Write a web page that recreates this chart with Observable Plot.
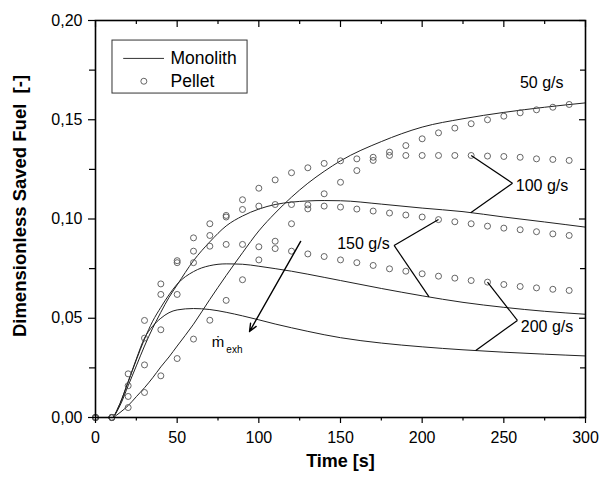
<!DOCTYPE html>
<html>
<head>
<meta charset="utf-8">
<script src="https://cdn.jsdelivr.net/npm/d3@7"></script>
<script src="https://cdn.jsdelivr.net/npm/@observablehq/plot@0.6"></script>
<style>
  html, body { margin: 0; padding: 0; background: #fff; }
  svg { display: block; }
</style>
</head>
<body>
<div id="chart"></div>
<script>
// ---------- data ----------
const seriesNames = ["50 g/s", "100 g/s", "150 g/s", "200 g/s"];

// Pellet (circles), sampled every 10 s
const pelletTime = [0,10,20,30,40,50,60,70,80,90,100,110,120,130,140,150,160,170,180,190,200,210,220,230,240,250,260,270,280,290];
const pellet50  = [0,0,0.005,0.0126,0.021,0.0297,0.0395,0.049,0.059,0.0694,0.0794,0.0888,0.0976,0.1051,0.1127,0.1185,0.1244,0.1295,0.1337,0.137,0.1404,0.1434,0.1458,0.148,0.150,0.1518,0.1535,0.155,0.1563,0.1577];
const pellet100 = [0,0,0.0106,0.0265,0.0442,0.062,0.078,0.0917,0.1010,0.1097,0.1155,0.1197,0.1233,0.1258,0.128,0.1293,0.1303,0.1311,0.132,0.132,0.132,0.132,0.132,0.132,0.1317,0.1315,0.1311,0.1303,0.130,0.1295];
const pellet150 = [0,0,0.016,0.040,0.062,0.078,0.0905,0.0976,0.1018,0.1048,0.1065,0.1073,0.1073,0.1071,0.1065,0.106,0.105,0.104,0.103,0.102,0.101,0.0997,0.0986,0.0976,0.0964,0.0954,0.0946,0.0936,0.0925,0.0917];
const pellet200 = [0,0,0.022,0.0489,0.0673,0.079,0.0838,0.0863,0.0872,0.0872,0.086,0.0851,0.0838,0.0824,0.0811,0.0794,0.078,0.0766,0.0749,0.0737,0.0724,0.0712,0.0702,0.069,0.0682,0.067,0.066,0.0653,0.0646,0.064];

// Monolith (lines)
const monoTime = [11,15,20,25,30,35,40,45,50,60,70,80,90,100,110,120,130,140,150,175,200,225,250,275,300];
const mono50  = [0,0.0025,0.006,0.0105,0.015,0.020,0.0255,0.0305,0.036,0.047,0.0595,0.0715,0.083,0.094,0.103,0.111,0.118,0.124,0.1293,0.139,0.1463,0.1505,0.1537,0.1563,0.1585];
const mono100 = [0,0.006,0.016,0.026,0.036,0.045,0.053,0.0605,0.0668,0.079,0.0885,0.0965,0.1015,0.105,0.1073,0.1085,0.1091,0.1093,0.1092,0.1075,0.1055,0.1037,0.101,0.0985,0.0959];
const mono150 = [0,0.007,0.018,0.029,0.0395,0.0485,0.0555,0.0618,0.0672,0.0735,0.0765,0.0774,0.0772,0.0762,0.075,0.0737,0.0722,0.0706,0.069,0.065,0.0613,0.058,0.0555,0.0535,0.052];
const mono200 = [0,0.007,0.018,0.0295,0.040,0.046,0.050,0.0528,0.0542,0.0549,0.0544,0.053,0.0512,0.0492,0.0471,0.0452,0.0434,0.0417,0.0402,0.0375,0.0356,0.0341,0.0329,0.0319,0.031];

// Axis ticks
const xMajor = [0,50,100,150,200,250,300];
const xMinor = [25,75,125,175,225,275];
const yMajor = [0,0.05,0.10,0.15,0.20];
const yMinor = [0.025,0.075,0.125,0.175];

// Texts
const xTitle = "Time [s]";
const yTitle = "Dimensionless Saved Fuel\u00a0 [-]";
const legendNames = ["Monolith", "Pellet"];

// ---------- build tables ----------
const pelletSets = [pellet50, pellet100, pellet150, pellet200];
const monoSets = [mono50, mono100, mono150, mono200];
const pellets = [];
pelletSets.forEach((arr, k) => pelletTime.forEach((t, i) => pellets.push({series: seriesNames[k], t, v: arr[i]})));
const monolith = [];
monoSets.forEach((arr, k) => monoTime.forEach((t, i) => monolith.push({series: seriesNames[k], t, v: arr[i]})));

const monoAt = (k, t) => {
  const arr = monoSets[k];
  const i = d3.bisectLeft(monoTime, t);
  if (i <= 0) return arr[0];
  if (i >= monoTime.length) return arr[arr.length - 1];
  const t0 = monoTime[i - 1], t1 = monoTime[i];
  return arr[i - 1] + (arr[i] - arr[i - 1]) * (t - t0) / (t1 - t0);
};
const pelletAt = (k, t) => pelletSets[k][pelletTime.indexOf(t)];

// annotation layout (data units)
const seriesLabels = [
  {k: 0, t: 273.2, v: 0.1688, anchor: "middle"},
  {k: 1, t: 257.3, v: 0.1169, anchor: "start", jt: 255.3, jv: 0.1180, pt: 230, mt: 229.7},
  {k: 2, t: 180.1, v: 0.0877, anchor: "end",   jt: 182.8, jv: 0.0867, pt: 210, mt: 204.2},
  {k: 3, t: 260.4, v: 0.0458, anchor: "start", jt: 258.3, jv: 0.0489, pt: 240, mt: 232.8}
];
const leaders = [];
seriesLabels.filter(d => d.pt != null).forEach(d => {
  leaders.push({x1: d.jt, y1: d.jv, x2: d.pt, y2: pelletAt(d.k, d.pt)});
  leaders.push({x1: d.jt, y1: d.jv, x2: d.mt, y2: monoAt(d.k, d.mt)});
});
const exhArrow = [{x1: 125.6, y1: 0.0887, x2: 94.3, y2: 0.0433}];
const exhLabel = [{t: 71.2, v: 0.0353, s: "\u1e41", size: 15}, {t: 80.1, v: 0.0326, s: "exh", size: 10}];
const legendBox = [{x1: 10.4, x2: 93.1, y1: 0.1632, y2: 0.1899}];
const legendLine = [{t: 17.2, v: 0.1809}, {t: 41.7, v: 0.1809}];
const legendDot = [{t: 29.6, v: 0.1694}];
const legendText = [{t: 45.9, v: 0.1809, s: legendNames[0]}, {t: 45.9, v: 0.1694, s: legendNames[1]}];

const font = "'Liberation Sans', Arial, Helvetica, sans-serif";
const fmt = d => d.toFixed(2).replace(".", ",");
const frameW = 599 - 95 - 14, frameH = 481 - 20 - 64;

const labelMark = anchor => Plot.text(seriesLabels.filter(d => d.anchor === anchor), {
  x: "t", y: "v", text: d => seriesNames[d.k], textAnchor: anchor, fontSize: 16, fill: "#000"
});

const chart = Plot.plot({
  width: 599,
  height: 481,
  marginLeft: 95,
  marginRight: 14,
  marginTop: 20,
  marginBottom: 64,
  style: {fontFamily: font, fontSize: "16px", background: "#fff", color: "#000"},
  x: {domain: [0, 300]},
  y: {domain: [0, 0.2]},
  marks: [
    // legend box
    Plot.rect(legendBox, {x1: "x1", x2: "x2", y1: "y1", y2: "y2", fill: "#fff", stroke: "#333", strokeWidth: 1}),
    Plot.line(legendLine, {x: "t", y: "v", stroke: "#333", strokeWidth: 1}),
    Plot.dot(legendDot, {x: "t", y: "v", r: 3, stroke: "#555", strokeWidth: 0.9, fill: "none"}),
    Plot.text(legendText, {x: "t", y: "v", text: "s", textAnchor: "start", fontSize: 17.5, fill: "#000"}),
    // data
    Plot.line(monolith, {x: "t", y: "v", z: "series", curve: "monotone-x", stroke: "#222", strokeWidth: 1}),
    Plot.dot(pellets, {x: "t", y: "v", r: 3, stroke: "#555", strokeWidth: 0.9, fill: "none"}),
    // annotations
    Plot.link(leaders, {x1: "x1", y1: "y1", x2: "x2", y2: "y2", stroke: "#000", strokeWidth: 1.2}),
    labelMark("middle"),
    labelMark("start"),
    labelMark("end"),
    Plot.arrow(exhArrow, {x1: "x1", y1: "y1", x2: "x2", y2: "y2", stroke: "#000", strokeWidth: 1.4, headLength: 9, headAngle: 45}),
    Plot.text(exhLabel, {x: "t", y: "v", text: "s", fontSize: d => d.size, textAnchor: "start", lineAnchor: "bottom", fill: "#000"}),
    // axes
    Plot.axisX({ticks: xMajor, tickSize: 6, tickPadding: 8, strokeWidth: 1.2, label: null, anchor: "bottom", fontSize: 16}),
    Plot.axisX({ticks: xMinor, tickSize: 3.5, tickFormat: () => "", strokeWidth: 1.2, label: null, anchor: "bottom"}),
    Plot.axisY({ticks: yMajor, tickSize: 7, tickPadding: 6, tickFormat: fmt, strokeWidth: 1.2, label: null, anchor: "left", fontSize: 16}),
    Plot.axisY({ticks: yMinor, tickSize: 6, tickFormat: () => "", strokeWidth: 1.2, label: null, anchor: "left"}),
    Plot.tickX(xMajor, {x: d => d, insetBottom: frameH - 7, stroke: "#000", strokeWidth: 1.2}),
    Plot.tickX(xMinor, {x: d => d, insetBottom: frameH - 4, stroke: "#000", strokeWidth: 1.2}),
    Plot.tickY(yMajor, {y: d => d, insetLeft: frameW - 6, stroke: "#000", strokeWidth: 1.2}),
    Plot.tickY(yMinor, {y: d => d, insetLeft: frameW - 5, stroke: "#000", strokeWidth: 1.2}),
    Plot.frame({stroke: "#000", strokeWidth: 1.6}),
    // axis titles
    Plot.text([xTitle], {text: d => d, frameAnchor: "bottom", dy: 49, textAnchor: "middle", fontWeight: "bold", fontSize: 18, fill: "#000"}),
    Plot.text([yTitle], {text: d => d, frameAnchor: "left", dx: -75, dy: -13, rotate: -90, textAnchor: "middle", lineAnchor: "middle", fontWeight: "bold", fontSize: 18.5, fill: "#000"})
  ]
});
document.getElementById("chart").appendChild(chart);
</script>
</body>
</html>
